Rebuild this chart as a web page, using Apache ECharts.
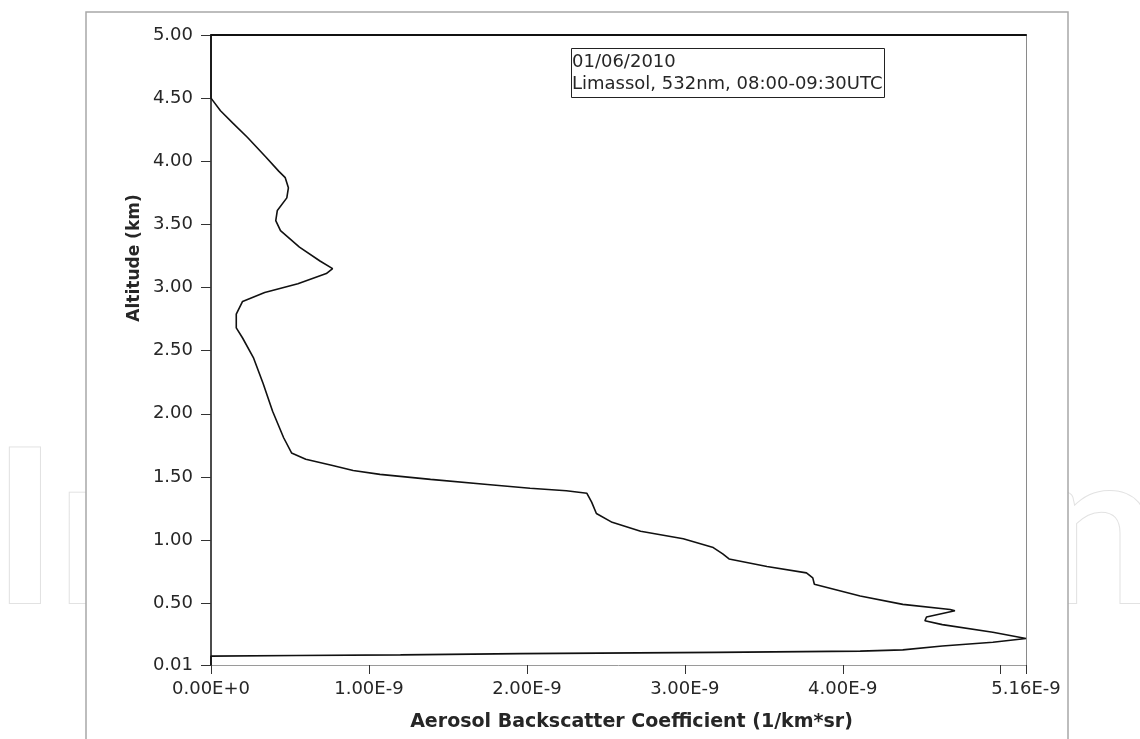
<!DOCTYPE html>
<html>
<head>
<meta charset="utf-8">
<script src="https://cdn.jsdelivr.net/npm/echarts@6/dist/echarts.min.js"></script>
<style>
  html, body { margin: 0; padding: 0; background: #ffffff; }
  #chart { width: 1140px; height: 739px; }
</style>
</head>
<body>
<div id="chart"></div>
<script>
// Lidar profile, Limassol 01/06/2010, 532 nm, 08:00-09:30 UTC
// Altitude (km), listed from the top of the profile down to the ground
const altitudeKm = [
  5.00, 4.50, 4.40, 4.30, 4.19, 4.03, 3.92, 3.87, 3.79, 3.71,
  3.61, 3.53, 3.45, 3.32, 3.21, 3.15, 3.11, 3.03, 2.96, 2.89,
  2.79, 2.68, 2.60, 2.44, 2.24, 2.02, 1.81, 1.69, 1.64, 1.59,
  1.55, 1.52, 1.48, 1.44, 1.41, 1.39, 1.37, 1.30, 1.21, 1.14,
  1.07, 1.01, 0.94, 0.89, 0.85, 0.79, 0.74, 0.70, 0.65, 0.556,
  0.49, 0.45, 0.44, 0.39, 0.36, 0.33, 0.27, 0.22, 0.19, 0.16,
  0.13, 0.12, 0.11, 0.10, 0.09, 0.085, 0.08, 0.01
];
// Aerosol backscatter coefficient, in units of 1E-9 (1/km*sr)
const backscatterE9 = [
  0.00, 0.00, 0.06, 0.14, 0.23, 0.35, 0.43, 0.47, 0.49, 0.48,
  0.42, 0.41, 0.44, 0.56, 0.69, 0.77, 0.73, 0.55, 0.34, 0.20,
  0.16, 0.16, 0.20, 0.27, 0.33, 0.39, 0.46, 0.51, 0.60, 0.77,
  0.90, 1.07, 1.39, 1.75, 2.02, 2.25, 2.38, 2.41, 2.44, 2.54,
  2.72, 2.99, 3.18, 3.24, 3.28, 3.52, 3.77, 3.81, 3.82, 4.11,
  4.38, 4.68, 4.71, 4.53, 4.52, 4.63, 4.95, 5.16, 4.95, 4.63,
  4.38, 4.11, 3.20, 1.96, 1.20, 0.54, 0.00, 0.00
];

// Axis ticks
const xTickValues = [0, 1e-9, 2e-9, 3e-9, 4e-9, 5e-9, 5.16e-9];
const xTickLabels = ['0.00E+0', '1.00E-9', '2.00E-9', '3.00E-9', '4.00E-9', '', '5.16E-9'];
const yTickValues = [0.01, 0.5, 1.0, 1.5, 2.0, 2.5, 3.0, 3.5, 4.0, 4.5, 5.0];
const yTickLabels = ['0.01', '0.50', '1.00', '1.50', '2.00', '2.50', '3.00', '3.50', '4.00', '4.50', '5.00'];

const annotationLines = ['01/06/2010', 'Limassol, 532nm, 08:00-09:30UTC'];
const xTitle = 'Aerosol Backscatter Coefficient (1/km*sr)';
const yTitle = 'Altitude (km)';
const watermark = 'IntechOpen';

const profile = backscatterE9.map((v, i) => [v * 1e-9, altitudeKm[i]]);

function labelFor(values, labels, v) {
  let best = 0, bestD = Infinity;
  values.forEach((t, i) => {
    const d = Math.abs(t - v);
    if (d < bestD) { bestD = d; best = i; }
  });
  return labels[best];
}

const FONT = 'DejaVu Sans';
const INK = '#262626';
const chart = echarts.init(document.getElementById('chart'), null, { renderer: 'canvas' });

chart.setOption({
  animation: false,
  backgroundColor: '#ffffff',
  textStyle: { fontFamily: FONT },
  grid: { left: 211, right: 114, top: 35, bottom: 74, show: false },
  title: {
    text: annotationLines.join('\n'),
    left: 571,
    top: 48,
    borderColor: '#222',
    borderWidth: 1,
    padding: [3, 2, 3, 1],
    textStyle: { fontFamily: FONT, fontSize: 18, fontWeight: 'normal', color: INK, lineHeight: 22 }
  },
  xAxis: [{
    type: 'value',
    min: 0,
    max: 5.16e-9,
    position: 'bottom',
    name: xTitle,
    nameLocation: 'middle',
    nameGap: 48,
    nameTextStyle: { fontFamily: FONT, fontSize: 19, fontWeight: 'bold', color: INK, padding: [0, 0, 0, 26] },
    axisLine: { show: true, onZero: false, lineStyle: { color: '#9a9a9a', width: 1 } },
    axisTick: { show: true, length: 9, customValues: xTickValues, lineStyle: { color: '#333' } },
    axisLabel: {
      show: true, margin: 15, fontSize: 18, color: INK, fontFamily: FONT,
      customValues: xTickValues,
      formatter: v => labelFor(xTickValues, xTickLabels, v)
    },
    splitLine: { show: false }
  }, {
    type: 'value',
    min: 0,
    max: 5.16e-9,
    position: 'top',
    axisLine: { show: true, onZero: false, lineStyle: { color: '#111', width: 2 } },
    axisTick: { show: false },
    axisLabel: { show: false },
    splitLine: { show: false }
  }],
  yAxis: [{
    type: 'value',
    min: 0.01,
    max: 5.0,
    position: 'left',
    axisLine: { show: true, onZero: false, lineStyle: { color: '#111', width: 1.5 } },
    axisTick: { show: true, inside: false, length: 10, customValues: yTickValues, lineStyle: { color: '#333' } },
    axisLabel: {
      show: true, margin: 18, fontSize: 18, color: INK, fontFamily: FONT,
      customValues: yTickValues,
      formatter: v => labelFor(yTickValues, yTickLabels, v)
    },
    splitLine: { show: false }
  }, {
    type: 'value',
    min: 0.01,
    max: 5.0,
    position: 'right',
    axisLine: { show: true, onZero: false, lineStyle: { color: '#8a8a8a', width: 1 } },
    axisTick: { show: false },
    axisLabel: { show: false },
    splitLine: { show: false }
  }],
  graphic: [
    {
      type: 'text',
      z: -3,
      x: -8,
      y: 427,
      scaleX: 1.04,
      style: {
        text: watermark,
        font: 'bold 214px Lato',
        fill: '#ffffff',
        stroke: '#e2e2e2',
        lineWidth: 2
      }
    },
    {
      type: 'rect',
      z: -2,
      shape: { x: 86, y: 12, width: 982, height: 760 },
      style: { fill: '#ffffff', stroke: '#a8a8a8', lineWidth: 1.5 }
    },
    {
      type: 'text',
      x: 135,
      y: 258,
      rotation: Math.PI / 2,
      style: {
        text: yTitle,
        font: 'bold 17px "DejaVu Sans"',
        fill: INK,
        align: 'center',
        verticalAlign: 'middle'
      }
    }
  ],
  series: [{
    type: 'line',
    xAxisIndex: 0,
    yAxisIndex: 0,
    data: profile,
    showSymbol: false,
    smooth: false,
    lineStyle: { color: '#111', width: 1.6 },
    clip: false,
    z: 3
  }]
});
</script>
</body>
</html>
